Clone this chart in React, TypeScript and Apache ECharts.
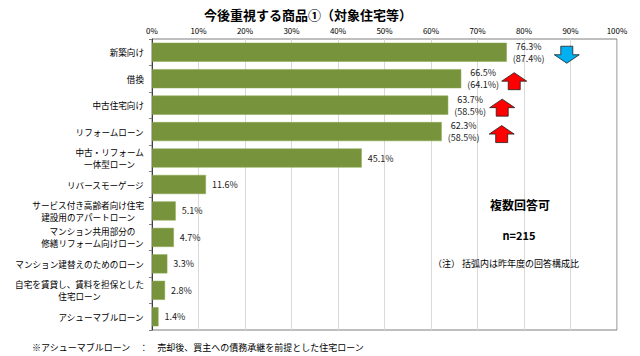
import React, { useEffect, useRef } from "react";
import * as echarts from "echarts";

const categories = [
  "新築向け",
  "借換",
  "中古住宅向け",
  "リフォームローン",
  "中古・リフォーム\n一体型ローン",
  "リバースモーゲージ",
  "サービス付き高齢者向け住宅\n建設用のアパートローン",
  "マンション共用部分の\n修繕リフォーム向けローン",
  "マンション建替えのためのローン",
  "自宅を賃貸し、賃料を担保とした\n住宅ローン",
  "アシューマブルローン",
];
const values = [76.3, 66.5, 63.7, 62.3, 45.1, 11.6, 5.1, 4.7, 3.3, 2.8, 1.4];
const prevYear: (number | null)[] = [87.4, 64.1, 58.5, 58.5, null, null, null, null, null, null, null];
const arrowDir: (string | null)[] = ["down", "up", "up", "up", null, null, null, null, null, null, null];
const xTicks = [0, 10, 20, 30, 40, 50, 60, 70, 80, 90, 100];

const FONT = '"Noto Sans CJK JP", "Noto Sans", sans-serif';

function arrowPoints(cx: number, cy: number, dir: string) {
  const W = 25, H = 17, S = 12, Hh = 8.5;
  const s = dir === "up" ? 1 : -1;
  const top = cy - (s * H) / 2;
  const neck = top + s * Hh;
  const bottom = cy + (s * H) / 2;
  return [
    [cx, top],
    [cx + W / 2, neck],
    [cx + S / 2, neck],
    [cx + S / 2, bottom],
    [cx - S / 2, bottom],
    [cx - S / 2, neck],
    [cx - W / 2, neck],
  ];
}

export default function App() {
  const ref = useRef<HTMLDivElement>(null);
  useEffect(() => {
    if (!ref.current) return;
    const chart = echarts.init(ref.current, null, { renderer: "svg" });
    const option: any = {
      animation: false,
      backgroundColor: "#ffffff",
      textStyle: { fontFamily: FONT },
      grid: { left: 152, top: 39, width: 465, height: 291, containLabel: false, show: true, borderColor: "#7f7f7f", borderWidth: 1 },
      xAxis: {
        type: "value",
        position: "top",
        min: 0,
        max: 100,
        interval: 10,
        axisLine: { show: false },
        axisTick: { show: false },
        splitLine: { show: true, lineStyle: { color: "#d9d9d9", width: 1 } },
        axisLabel: {
          formatter: (v: number) => (xTicks.includes(v) ? v + "%" : ""),
          fontSize: 8,
          color: "#000",
          margin: 5,
          fontFamily: FONT,
        },
      },
      yAxis: {
        type: "category",
        inverse: true,
        data: categories,
        axisLine: { show: true, lineStyle: { color: "#404040", width: 1 } },
        axisTick: { show: true, length: 3, lineStyle: { color: "#808080" } },
        axisLabel: {
          margin: 8,
          fontSize: 8.6,
          color: "#000",
          lineHeight: 12,
          fontFamily: FONT,
          formatter: (v: string) => v.split("\n").map((l) => "{c|" + l + "}").join("\n"),
          rich: { c: { align: "center", fontSize: 8.6, lineHeight: 12, color: "#000", fontFamily: FONT } },
        },
      },
      series: [
        {
          type: "bar",
          data: values,
          barCategoryGap: "28%",
          itemStyle: { color: "#77933c", borderColor: "#8aa64c", borderWidth: 0.5 },
          label: {
            show: true,
            position: "right",
            distance: 6,
            fontFamily: FONT,
            formatter: (p: any) => {
              const pv = prevYear[p.dataIndex];
              const cur = "{c|" + p.value.toFixed(1) + "%}";
              return pv != null ? cur + "\n{c|(" + pv.toFixed(1) + "%)}" : cur;
            },
            rich: { c: { align: "center", fontSize: 9, lineHeight: 12, color: "#1a1a1a", fontFamily: FONT } },
          },
        },
      ],
    };
    chart.setOption(option);

    const arrowOffsets = [60, 53, 54, 60];
    const graphics: any[] = [];
    arrowDir.forEach((d, i) => {
      if (!d) return;
      const p = chart.convertToPixel({ gridIndex: 0 }, [values[i], i]) as number[];
      const cx = p[0] + (arrowOffsets[i] ?? 56);
      const cy = p[1] + 2.5;
      graphics.push({
        type: "polygon",
        shape: { points: arrowPoints(cx, cy, d) },
        style: { fill: d === "up" ? "#ff0000" : "#00b0f0", stroke: "#1f1f1f", lineWidth: 0.8 },
      });
    });
    graphics.push(
      {
        type: "text",
        x: 308,
        y: 14,
        style: { text: "今後重視する商品①（対象住宅等）", font: "bold 13px " + FONT, fill: "#000", align: "center", verticalAlign: "middle" },
      },
      {
        type: "text",
        x: 520,
        y: 204,
        style: { text: "複数回答可", font: "bold 12px " + FONT, fill: "#000", align: "center", verticalAlign: "middle" },
      },
      {
        type: "text",
        x: 519,
        y: 235,
        style: { text: "n=215", font: "bold 11px " + FONT, fill: "#000", align: "center", verticalAlign: "middle" },
      },
      {
        type: "text",
        x: 433,
        y: 263,
        style: { text: "（注） 括弧内は昨年度の回答構成比", font: "9px " + FONT, fill: "#000", align: "left", verticalAlign: "middle" },
      },
      {
        type: "text",
        x: 32,
        y: 347,
        style: { text: "※アシューマブルローン　：　売却後、買主への債務承継を前提とした住宅ローン", font: "9px " + FONT, fill: "#000", align: "left", verticalAlign: "middle" },
      }
    );
    chart.setOption({ graphic: graphics });
    return () => chart.dispose();
  }, []);
  return <div ref={ref} style={{ position: "fixed", left: 0, top: 0, width: 640, height: 356 }} />;
}
